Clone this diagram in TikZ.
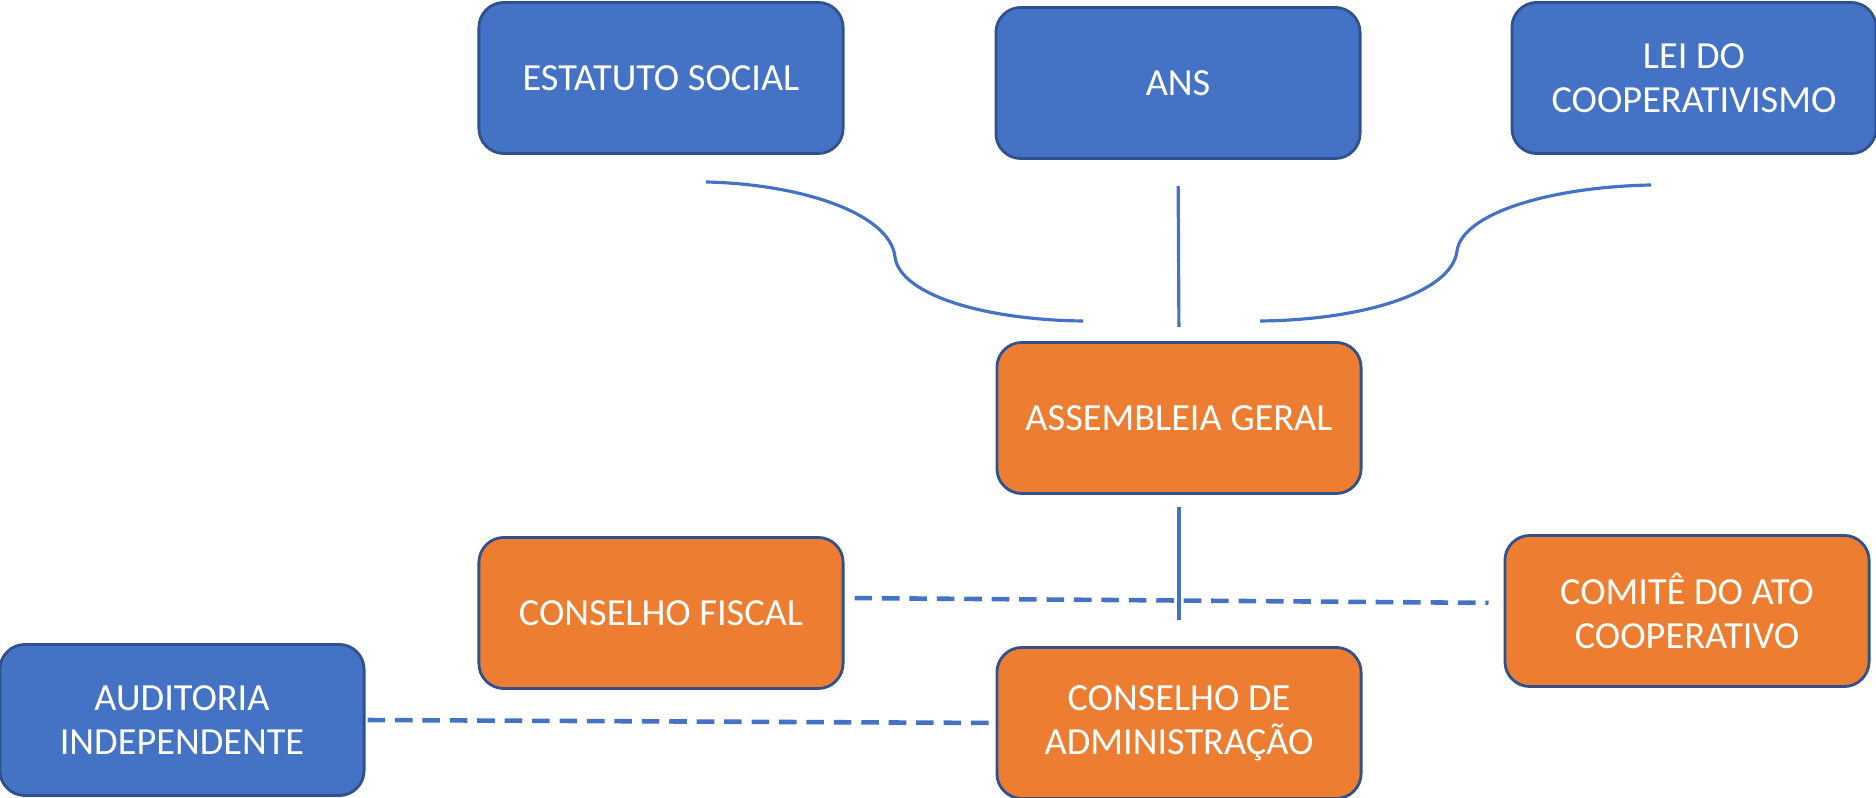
\documentclass[tikz,border=0pt]{standalone}
\usepackage{fontspec}
\setmainfont{Carlito}
\usepackage{tikz}
\definecolor{boxblue}{HTML}{4472C4}
\definecolor{boxorange}{HTML}{ED7D31}
\definecolor{edgeblue}{HTML}{2F528F}
\definecolor{lineblue}{HTML}{4472C4}

\begin{document}
\begin{tikzpicture}[x=0.01cm,y=-0.01cm,
    box/.style={draw=edgeblue,line width=0.8pt,rounded corners=0.25cm,minimum width=3.64cm,minimum height=1.51cm,align=center,text=white,font=\fontsize{10.9}{12.6}\selectfont},
    bluebox/.style={box,fill=boxblue},
    orangebox/.style={box,fill=boxorange},
    link/.style={lineblue,line width=0.9pt},
    dashlink/.style={lineblue,line width=1.3pt,dash pattern=on 5pt off 2.8pt}]
    \useasboundingbox (0,0) rectangle (1876,798);

    % Normas (topo)
    \node[bluebox] (estatuto) at (661,78) {ESTATUTO SOCIAL};
    \node[bluebox] (ans) at (1178,83) {ANS};
    \node[bluebox] (lei) at (1694,78) {LEI DO\\COOPERATIVISMO};

    % Orgaos
    \node[orangebox] (assembleia) at (1179,418) {ASSEMBLEIA GERAL};
    \node[orangebox] (fiscal) at (661,613) {CONSELHO FISCAL};
    \node[orangebox] (comite) at (1687,611) {COMITÊ DO ATO\\COOPERATIVO};
    \node[orangebox] (conselho) at (1179,723) {CONSELHO DE\\ADMINISTRAÇÃO};
    \node[bluebox] (auditoria) at (182,720) {AUDITORIA\\INDEPENDENTE};

    % Curvas das normas
    \coordinate (esA) at (706,182);
    \coordinate (esB) at (1083,321);
    \coordinate (leiA) at (1651,185);
    \coordinate (leiB) at (1260,321);
    \draw[link] (esA) .. controls (800,184) and (890,213) .. (895,257) .. controls (900,295) and (985,320) .. (esB);
    \draw[link] (leiB) .. controls (1365,320) and (1452,292) .. (1457,251) .. controls (1462,214) and (1548,187) .. (leiA);

    % Linhas
    \draw[link,shorten <=0.26cm,shorten >=0.14cm] (ans.south) -- (assembleia.north);
    \draw[link,shorten <=0.12cm,shorten >=0.26cm] (assembleia.south) -- (conselho.north);
    \draw[dashlink,shorten <=0.1cm,shorten >=0.15cm] ([yshift=0.15cm]fiscal.east) -- ([yshift=0.08cm]comite.west);
    \draw[dashlink,shorten <=0.02cm,shorten >=0.04cm] (auditoria.east) -- (conselho.west);
\end{tikzpicture}
\end{document}
